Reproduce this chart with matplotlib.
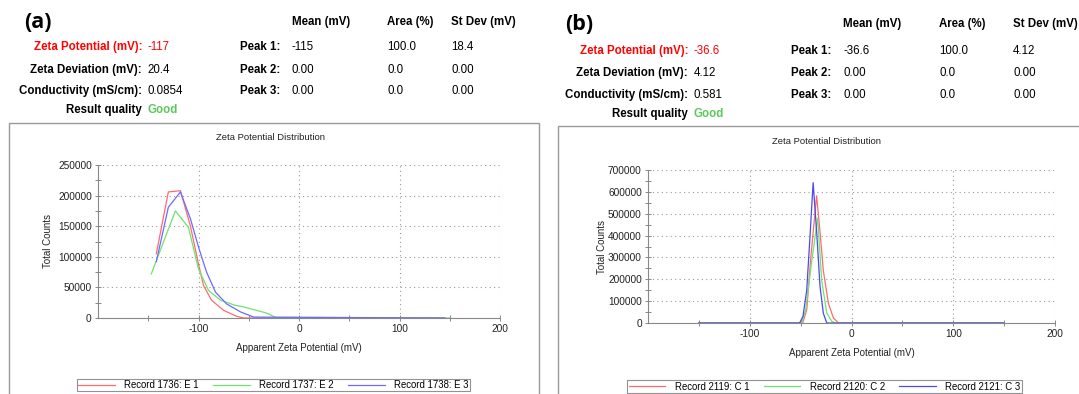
import matplotlib
matplotlib.use("Agg")
import matplotlib.pyplot as plt
from matplotlib.patches import Rectangle

W, H = 1079, 394
plt.rcParams["font.family"] = ["Liberation Sans", "DejaVu Sans"]
plt.rcParams["axes.unicode_minus"] = False

RED = "#ff6b6b"
GREEN = "#6ee36e"
BLUE = "#6b6bff"

# ---- panel (a) records ----
e1_mv = [-142, -130, -118, -108, -100, -95, -87, -75, -62, -55, 145]
e1_counts = [105000, 206000, 208000, 150000, 88000, 53000, 29000, 12500, 2700, 0, 0]
e2_mv = [-147, -123, -110, -100, -90, -78, -64, -55, -33, -23, 150]
e2_counts = [72000, 175000, 148000, 80000, 45000, 29000, 21000, 18000, 8500, 1000, 0]
e3_mv = [-142, -130, -118, -108, -100, -92, -83, -72, -58, -45, 145]
e3_counts = [92000, 181000, 206000, 162000, 116000, 75000, 42000, 23000, 9800, 1500, 0]

# ---- panel (b) records ----
c1_mv = [-150, -48, -44, -40, -34.3, -31, -27.7, -22.7, -17.7, -12.7, 150]
c1_counts = [0, 0, 60000, 300000, 582000, 420000, 240000, 90000, 22000, 0, 0]
c2_mv = [-150, -49, -45, -40, -33.3, -29.3, -24.3, -19.3, -16, 150]
c2_counts = [0, 0, 60000, 250000, 480000, 195000, 45000, 7500, 0, 0]
c3_mv = [-150, -51, -47.7, -44, -41, -37.7, -34, -31, -27.7, -24.3, 150]
c3_counts = [0, 0, 30000, 150000, 380000, 642000, 400000, 170000, 45000, 0, 0]

panel_a = {
    "tag": "(a)",
    "zeta": "-117", "deviation": "20.4", "conductivity": "0.0854",
    "peaks": [["-115", "100.0", "18.4"], ["0.00", "0.0", "0.00"], ["0.00", "0.0", "0.00"]],
    "series": [(e1_mv, e1_counts, RED, "Record 1736: E 1"),
               (e2_mv, e2_counts, GREEN, "Record 1737: E 2"),
               (e3_mv, e3_counts, BLUE, "Record 1738: E 3")],
    "ymax": 250000, "ystep": 50000,
}
panel_b = {
    "tag": "(b)",
    "zeta": "-36.6", "deviation": "4.12", "conductivity": "0.581",
    "peaks": [["-36.6", "100.0", "4.12"], ["0.00", "0.0", "0.00"], ["0.00", "0.0", "0.00"]],
    "series": [(c1_mv, c1_counts, RED, "Record 2119: C 1"),
               (c2_mv, c2_counts, GREEN, "Record 2120: C 2"),
               (c3_mv, c3_counts, "#4a4aee", "Record 2121: C 3")],
    "ymax": 700000, "ystep": 100000,
}

HEAD_FS = 8.3


def fx(px):
    return px / W


def fy(py):
    return 1 - py / H


def draw_header(fig, p, x0, rows, label_right, value_left, peak_left, cols):
    fig.text(fx(x0), fy(rows[0]), p["tag"], fontsize=15.5, fontweight="bold",
             family=["Open Sans", "DejaVu Sans"], va="center", ha="left")
    for x, txt in zip(cols, ["Mean (mV)", "Area (%)", "St Dev (mV)"]):
        fig.text(fx(x), fy(rows[0]), txt, fontsize=HEAD_FS, fontweight="bold",
                 va="center", ha="left")
    left = [("Zeta Potential (mV):", "red", p["zeta"], "red"),
            ("Zeta Deviation (mV):", "black", p["deviation"], "black"),
            ("Conductivity (mS/cm):", "black", p["conductivity"], "black"),
            ("Result quality", "black", "Good", "#5cc85c")]
    for i, (lab, lc, val, vc) in enumerate(left):
        y = fy(rows[i + 1])
        fig.text(fx(label_right), y, lab, fontsize=HEAD_FS, fontweight="bold",
                 color=lc, va="center", ha="right")
        fig.text(fx(value_left), y, val, fontsize=HEAD_FS, color=vc, va="center",
                 ha="left", fontweight="bold" if val == "Good" else "normal")
    for i, vals in enumerate(p["peaks"]):
        y = fy(rows[i + 1])
        fig.text(fx(peak_left), y, f"Peak {i + 1}:", fontsize=HEAD_FS,
                 fontweight="bold", va="center", ha="left")
        for x, v in zip(cols, vals):
            fig.text(fx(x), y, v, fontsize=HEAD_FS, va="center", ha="left")


def draw_plot(fig, p, box, title_xy, ylab_x, xlab_y, leg_box):
    l, t, r, b = box
    ax = fig.add_axes([fx(l), fy(b), fx(r - l), (b - t) / H])
    for mv, counts, color, label in p["series"]:
        ax.plot(mv, counts, color=color, lw=0.9, label=label)
    ax.set_xlim(-200, 200)
    ax.set_ylim(0, p["ymax"])
    ax.set_xticks([-100, 0, 100, 200])
    ax.set_xticks([-150, -50, 50, 150], minor=True)
    ax.set_yticks(range(0, p["ymax"] + 1, p["ystep"]))
    ax.set_yticks(range(p["ystep"] // 2, p["ymax"], p["ystep"]), minor=True)
    ax.yaxis.set_major_formatter(plt.FuncFormatter(lambda v, _: f"{int(v)}"))
    for side in ["top", "right"]:
        ax.spines[side].set_visible(False)
    for side in ["left", "bottom"]:
        ax.spines[side].set_color("#888888")
        ax.spines[side].set_linewidth(0.8)
    ax.tick_params(which="major", direction="inout", length=5, width=0.7,
                   colors="#888888", labelcolor="#222222", labelsize=7.3, pad=2)
    ax.tick_params(which="minor", direction="inout", length=4, width=0.7,
                   colors="#888888")
    ax.grid(which="major", color="#999999", linestyle=(0, (1, 3)), lw=0.8)
    ax.set_axisbelow(True)
    fig.text(fx(title_xy[0]), fy(title_xy[1]), "Zeta Potential Distribution",
             fontsize=6.8, ha="center", va="center", color="#222222")
    fig.text(fx(ylab_x), fy((t + b) / 2), "Total Counts", fontsize=7,
             rotation=90, ha="center", va="center", color="#222222")
    fig.text(fx((l + r) / 2), fy(xlab_y), "Apparent Zeta Potential (mV)",
             fontsize=7, ha="center", va="center", color="#222222")
    ll, lt, lr, lb = leg_box
    handles, labels = ax.get_legend_handles_labels()
    leg = fig.legend(handles, labels, ncol=3, loc="center",
                     bbox_to_anchor=(fx((ll + lr) / 2), fy((lt + lb) / 2)),
                     fontsize=6.9, frameon=True, fancybox=False,
                     handlelength=3.8, handletextpad=1.0, columnspacing=1.5,
                     borderpad=0.15, borderaxespad=0)
    leg.get_frame().set_edgecolor("#777777")
    leg.get_frame().set_linewidth(0.8)
    return ax


fig = plt.figure(figsize=(W / 100, H / 100), dpi=100)
fig.patch.set_facecolor("white")

# outer frames around each distribution plot
fig.patches.append(Rectangle((fx(8.5), fy(400)), fx(539.3 - 8.5), (400 - 122.7) / H,
                             transform=fig.transFigure, fill=False,
                             edgecolor="#999999", lw=1.0))
fig.patches.append(Rectangle((fx(558.3), fy(400)), fx(560), (400 - 126) / H,
                             transform=fig.transFigure, fill=False,
                             edgecolor="#999999", lw=1.0))

draw_header(fig, panel_a, 24, [22, 47, 70, 91, 110], 142, 147, 240,
            [292, 387, 451])
draw_header(fig, panel_b, 565, [24, 51, 73, 95, 114], 688, 694, 791,
            [843, 939, 1013])

draw_plot(fig, panel_a, (98, 165, 500, 318), (270, 137), 48, 348,
          (77, 378, 470, 392))
draw_plot(fig, panel_b, (648, 170, 1055, 323), (827, 141), 602, 353,
          (625, 380, 1024, 393))

fig.savefig("out.png", dpi=100)
